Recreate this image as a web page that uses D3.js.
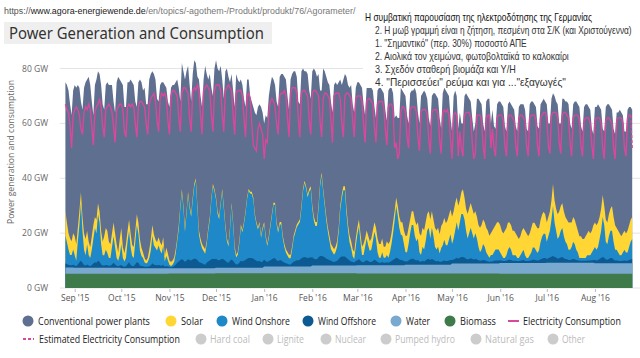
<!DOCTYPE html>
<html><head><meta charset="utf-8">
<script src="https://cdn.jsdelivr.net/npm/d3@7"></script>
<style>body{margin:0;background:#fff}svg{display:block}</style>
</head><body>
<svg id="c" width="640" height="358"></svg>
<script>
// ---------- DATA (daily values, GW; rows = weeks Sun..Sat) ----------
const startDate = "2015-08-26";
const monthTicks = ["Sep '15","Oct '15","Nov '15","Dec '15","Jan '16","Feb '16","Mar '16","Apr '16","May '16","Jun '16","Jul '16","Aug '16"];
const yTicks = [0, 20, 40, 60, 80];

const consumption = [
[67,65,64,59],
[51,63,65,66,65,63,58],[56,64,66,65,67,65,59],[52,64,66,67,69,66,59],[55,65,66,67,66,64,59],
[53,65,66,67,67,65,57],[55,66,67,66,67,66,60],[55,66,68,68,67,66,60],[56,67,69,70,71,68,61],
[57,69,71,70,71,69,61],[56,70,72,72,71,70,62],[57,71,73,73,72,71,62],[57,72,73,72,74,72,63],
[56,72,73,74,73,72,63],[57,72,74,74,74,72,63],[57,72,73,74,73,72,63],[56,71,72,72,72,70,62],
[55,70,71,69,60,52,51],[50,58,60,58,56,47,54],[53,64,68,69,68,66,60],[56,70,71,71,72,70,62],
[55,71,73,73,73,71,62],[55,71,72,72,71,70,61],[56,71,72,72,71,70,61],[55,69,71,71,70,69,61],
[53,70,71,71,71,69,60],[55,70,71,71,70,69,61],[55,69,70,70,70,68,60],[53,68,69,69,68,67,59],
[53,67,68,68,68,66,58],[52,66,67,67,65,51,53],[47,49,64,66,66,64,55],[51,65,66,66,66,64,55],
[50,64,65,65,65,63,54],[49,64,65,65,65,63,54],[49,64,65,64,65,63,54],[47,63,64,63,48,57,51],
[48,63,64,64,64,62,53],[47,49,63,63,63,61,52],[47,62,63,63,51,58,51],[48,62,63,63,63,61,52],
[48,62,63,63,62,61,52],[48,62,63,63,62,61,52],[48,62,63,63,63,61,52],[48,62,63,64,64,62,52],
[49,63,64,64,64,62,53],[49,63,64,64,63,62,53],[48,62,63,63,63,61,52],[48,61,62,62,62,60,52],
[47,61,62,62,62,60,51],[47,61,62,62,61,60,51],[47,61,62,62,62,60,51],
[48,62,63,63,null]].flat();

const estimatedStart = "2016-08-24";
const estimatedConsumption = [63, 51];

const totalGeneration = [
[75,74,72,67],
[63,72,74,73,74,73,68],[65,73,75,76,77,74,68],[63,74,76,79,78,74,67],[65,74,75,74,74,74,68],
[64,75,77,76,75,74,66],[66,75,75,76,75,74,68],[66,75,76,75,72,73,67],[67,76,78,79,78,76,69],
[68,74,75,75,74,73,68],[66,73,74,74,75,76,73],[68,82,79,76,79,81,74],[68,78,83,82,77,76,70],
[66,76,81,78,76,78,73],[70,80,83,80,79,81,76],[69,79,80,77,75,78,72],[66,78,76,75,76,74,69],
[66,76,76,70,68,66,64],[63,66,67,66,64,60,63],[62,70,74,77,76,74,68],[66,77,78,78,77,76,70],
[65,76,78,79,79,77,68],[67,79,80,79,79,78,72],[69,79,80,79,77,78,72],[72,80,79,77,75,74,68],
[64,74,75,74,75,76,74],[76,78,77,74,73,74,67],[64,73,75,75,74,73,67],[63,73,74,74,73,72,66],
[62,72,73,73,72,71,65],[61,72,73,73,71,62,63],[62,62,73,72,71,70,63],[60,71,72,72,73,71,64],
[60,70,71,72,71,69,62],[59,70,71,71,70,69,62],[58,71,73,72,71,70,62],[57,70,72,70,58,64,60],
[60,70,71,70,69,68,62],[57,60,69,69,68,67,60],[57,68,69,69,60,65,59],[58,67,68,68,67,66,59],
[57,67,68,67,66,65,59],[57,66,67,67,67,65,58],[57,67,68,68,67,66,59],[58,67,68,69,68,67,60],
[60,69,71,70,68,67,60],[60,69,69,68,68,67,60],[58,67,68,68,67,66,59],[57,66,67,67,66,65,58],
[56,66,66,67,66,65,58],[57,66,67,67,66,65,58],[56,64,64,65,64,63,57],
[57,65,66,66,65]].flat();

const solar = [
[9,7,6,6],
[5,6,7,6,5,5,4],[5,6,6,5,5,4,5],[5,4,5,4,4,5,5],[7,8,8,6,5,5,5],
[5,5,3,6,6,4,3],[5,4,4,5,4,4,4],[4,4,4,3,2,1.5,1],[1.5,3,4,4,4,3,3],
[3,3,3,3,2,3,2.5],[1.5,1.5,1.5,1.5,1.5,1,1.5],[1,1,1,1.5,1,1,1],[1,1,1,0.8,1,1.5,1.5],
[1.5,1.5,1.5,1,1,1,0.8],[0.8,0.8,0.8,1,1,0.8,0.8],[1,1,1,1,0.8,0.8,1],[1,1,1,0.8,0.8,0.8,0.8],
[0.8,0.7,0.7,0.7,0.8,0.8,0.8],[0.8,0.8,0.8,0.8,0.8,0.8,0.8],[0.8,0.8,0.8,0.8,0.8,0.8,1],[1,1,1,1,1.2,1.2,1.3],
[1.3,1.3,1.2,1,1,1,1],[1,1,0.8,0.8,0.8,1,1],[1,1.2,1.5,1.5,1.5,1.2,1],[1,1,1.2,1.5,1.5,1.8,2],
[2,2,2,2,1.5,1.5,1.5],[1.5,1.5,2,2,2.5,2.5,2.5],[2.5,3,2.5,2.5,3,3,4],[3,3,3.5,3.5,4,4,3.5],
[4,5,5,5,5,4,4],[5,5,4,4,4,3.5,3],[3.5,4,4.5,5,5,6,6],[6,5,5,5,6,6,6],
[7,7,7,7,7,6,6],[7,6,6,7,7,7,7],[8,8,8,8,9,9,9],[10,10,10,9,9,8,8],
[9,8,8,9,9,9,9],[9,8,8,8,9,9,9],[9,9,9,8,8,9,9],[9,10,10,10,9,9,10],
[10,10,9,9,9,9,8],[8,7,7,8,8,9,9],[8,8,9,9,9,9,9],[8,8,8,8,7,7,7],
[7,7,8,8,8,9,9],[9,9,9,9,9,10,10],[9,9,9,9,8,8,8],[7,7,8,8,9,8,8],
[9,9,9,9,8,8,8],[7,8,8,8,8,9,9],[9,8,8,8,7,7,7],
[7,8,8,8,8]].flat();

const windOnshore = [
[10,8,5.5,3.7],
[3.7,5.5,3.7,2,8.3,13.5,21],[11.7,5.5,3.7,7.3,3.7,3,5.5],[9,12.5,10.7,17,14.3,7.3,3.7],[3.7,5.5,4.5,2.8,2.8,6.3,9.7],
[6.3,2.8,2,3.7,7.5,3,2],[3,8,11.5,6.5,3.7,3,8],[13.5,10.7,5.5,3.7,3,1.7,1.2],[1.7,3,5.5,10,7,6.3,5.5],
[7,5.5,4.5,7,2,3.7,2.3],[0.8,0.5,0.8,1.5,4,7.8,11.8],[18.8,24.5,18.8,11,17,23.5,18.8],[16,21.5,26.3,28.5,18.8,10,7.3],
[5.5,4.8,4,6.8,11.3,15,21.7],[26.5,24.7,21.6,16.9,15,19.9,24.6],[18.7,12.2,7.7,5.9,11.4,19.9,13.2],[5,2.5,3.4,7.1,12.4,10.6,13.4],
[17.1,21.7,24.5,23.5,23.4,21.6,16],[13.4,11.6,13.4,9,11.6,13,8.5],[5.8,8.5,12.2,15.8,19.5,19.5,13],[10.3,13,13,8.5,5.6,3.9,3],
[2.2,2.2,4.8,8.5,10.3,12,13],[13.8,18.3,24.2,27,25.2,22.3,24],[25,17.7,13.9,12.1,12.1,17.7,25.4],[29.4,23.6,18.7,13.9,10.1,7.1,4.2],
[3.4,2.6,3.4,5.2,10.1,17.4,21.1],[24.1,24.1,16.2,10.6,6.6,4.9,2.1],[1.3,5.3,9.4,12,7,2.5,2.6],[5.2,7.9,5.7,4,4.5,7.2,10.2],
[8,3.5,1.8,1.8,3.5,1.8,1.8],[2.6,1.8,3.5,6.2,9.8,13.9,19],[15.7,11.6,9.3,8.9,6.2,3.3,3.3],[6,9.6,12.3,12.3,8.7,7,7.8],
[3.3,2.4,5.1,4.3,7,10.5,11.4],[7.8,11.4,8.7,5.1,4.3,5.1,3],[5,5.8,7.6,5.8,5.8,7.6,9.4],[5.8,7.6,10.3,13,10.3,13,15.7],
[15.7,13.9,10.3,7.6,9.4,11.2,9.4],[7.6,9.4,7.6,4.9,3.1,4,5.8],[4.9,3.1,2.3,1.4,2.3,2.3,3.1],[4,4,4,2.8,2,1.1,1.1],
[2,3.7,4.6,3.7,2,2,2],[1.1,1.1,2,2.8,3.7,2,1.1],[1.1,2,2.8,4.5,4.5,3.7,2.8],[3.7,6.3,8.1,8.9,8.9,6.3,8.1],
[9.8,13.5,18.2,12.6,9.8,7.2,8.1],[9.8,10.6,8.1,6.3,5.4,3.7,3.7],[4.5,6.3,5.4,3.7,2.8,1,1],[1,1,1,1.9,1.9,1.9,2.8],
[3.7,4.7,3.9,4.7,7.3,10,14.6],[11.9,6.5,5.6,8.3,10,10,6.5],[3.9,3.9,3,2.1,2.1,3,3.9],
[3,3,4.7,6.5,7.3]].flat();

const windOffshore = [
[1.5,1.2,1,0.8],
[0.8,1,0.8,0.5,1.2,2,2.5],[1.8,1,0.8,1.2,0.8,0.5,1],[1.5,2,1.8,2.5,2.2,1.2,0.8],[0.8,1,0.9,0.7,0.7,1.2,1.8],
[1.2,0.7,0.5,0.8,1.2,0.7,0.5],[0.7,1.5,2.2,1.2,0.8,0.7,1.5],[2.2,2,1,0.8,0.7,0.5,0.5],[0.5,0.7,1,1.8,1.3,1.2,1],
[1.3,1,0.9,1.3,0.5,0.8,0.6],[0.5,0.3,0.5,0.8,1.3,2,2.5],[3,3.3,3,2.3,2.8,3.3,3],[2.8,3.3,3.5,3.5,3,2.3,2],
[1.8,1.5,1.3,2,2.5,2.8,3.3],[3.5,3.3,3.3,2.8,2.7,3,3.3],[3,2.5,2,1.8,2.5,3,2.5],[1.7,1.2,1.3,1.8,2.5,2.3,2.5],
[2.8,3.3,3.5,3.5,3.5,3.3,2.9],[2.5,2.3,2.5,2,2.3,2.5,2],[1.7,2,2.3,2.7,3,3,2.3],[2,2.3,2.3,1.8,1.5,1.2,1],
[0.8,0.8,1.3,1.8,2,2.3,2.3],[2.5,3,3.3,3.5,3.3,3,3.3],[3.3,3,2.5,2.3,2.3,3,3.5],[3.5,3.3,3,2.5,2.3,2,1.7],
[1.5,1.3,1.5,1.7,2.3,3,3.3],[3.3,3.3,2.7,2.3,1.8,1.5,1.3],[1.1,1.6,1.8,2.2,1.7,1.2,1.1],[1.5,1.8,1.5,1.2,1.2,1.5,2],
[1.7,1.2,0.9,0.9,1.2,0.9,0.9],[1.1,0.9,1.2,1.5,1.9,2.3,2.7],[2.5,2.1,1.9,1.8,1.5,1.2,1.2],[1.5,1.9,2.2,2.2,1.8,1.5,1.7],
[1.2,1.1,1.4,1.2,1.5,2,2.1],[1.7,2.1,1.8,1.4,1.2,1.4,1.1],[1.1,1.3,1.5,1.3,1.3,1.5,1.7],[1.3,1.5,1.8,2.1,1.8,2.1,2.4],
[2.4,2.2,1.8,1.5,1.7,1.9,1.7],[1.5,1.7,1.5,1.2,1,1.1,1.3],[1.2,1,0.8,0.7,0.8,0.8,1],[1.1,1.1,1.1,1,0.8,0.7,0.7],
[0.8,1.1,1.2,1.1,0.8,0.8,0.8],[0.7,0.7,0.8,1,1.1,0.8,0.7],[0.7,0.8,1,1.2,1.2,1,0.9],[1,1.4,1.6,1.8,1.8,1.4,1.6],
[1.9,2.2,2.5,2.1,1.9,1.5,1.6],[1.9,2.1,1.6,1.4,1.3,1,1],[1.2,1.4,1.3,1,0.9,0.7,0.7],[0.7,0.7,0.7,0.8,0.8,0.8,0.9],
[1,1.2,1,1.2,1.6,1.9,2.3],[2,1.4,1.3,1.6,1.9,1.9,1.4],[1,1,0.9,0.8,0.8,0.9,1],
[0.9,0.9,1.2,1.4,1.6]].flat();

const water = [
[2.3,2.3,2.3,2.3],
[2.3,2.3,2.2,2.2,2.2,2.2,2.2],[2.2,2.2,2.2,2.2,2.2,2.2,2.2],[2.2,2.2,2.2,2.2,2.2,2.2,2.2],[2.2,2.2,2.2,2.2,2.2,2.2,2.2],
[2.2,2.2,2.2,2.2,2.0,2.0,2.0],[2.0,2.0,2.0,2.0,2.0,2.0,2.0],[2.0,2.0,2.0,2.0,2.0,2.0,2.0],[2.0,2.0,2.0,2.0,2.0,2.0,2.0],
[2.0,2.0,2.0,2.0,2.0,2.0,2.0],[1.9,1.9,1.9,1.9,1.9,1.9,1.9],[1.9,1.9,1.9,1.9,1.9,1.9,1.9],[1.9,1.9,1.9,1.9,1.9,1.9,1.9],
[1.9,1.9,1.9,1.9,1.9,1.9,1.9],[1.9,1.9,2.0,2.0,2.0,2.0,2.0],[2.0,2.0,2.0,2.0,2.0,2.0,2.0],[2.0,2.0,2.0,2.0,2.0,2.0,2.0],
[2.0,2.0,2.0,2.0,2.0,2.0,2.0],[2.0,2.0,2.0,2.0,2.0,2.4,2.4],[2.4,2.4,2.4,2.4,2.4,2.4,2.4],[2.4,2.4,2.4,2.4,2.4,2.4,2.4],
[2.4,2.4,2.4,2.4,2.4,2.4,2.4],[2.4,2.4,2.4,2.4,2.4,2.4,2.4],[2.4,2.8,2.8,2.8,2.8,2.8,2.8],[2.8,2.8,2.8,2.8,2.8,2.8,2.8],
[2.8,2.8,2.8,2.8,2.8,2.8,2.8],[2.8,2.8,2.8,2.8,2.8,2.8,2.8],[2.8,2.8,3.0,3.0,3.0,3.0,3.0],[3.0,3.0,3.0,3.0,3.0,3.0,3.0],
[3.0,3.0,3.0,3.0,3.0,3.0,3.0],[3.0,3.0,3.0,3.0,3.0,3.0,3.0],[3.0,3.0,3.0,3.0,3.0,3.2,3.2],[3.2,3.2,3.2,3.2,3.2,3.2,3.2],
[3.2,3.2,3.2,3.2,3.2,3.2,3.2],[3.2,3.2,3.2,3.2,3.2,3.2,3.2],[3.2,3.2,3.2,3.2,3.2,3.2,3.2],[3.6,3.6,3.6,3.6,3.6,3.6,3.6],
[3.6,3.6,3.6,3.6,3.6,3.6,3.6],[3.6,3.6,3.6,3.6,3.6,3.6,3.6],[3.6,3.6,3.6,3.6,3.6,3.6,3.6],[3.6,3.6,3.6,3.9,3.9,3.9,3.9],
[3.9,3.9,3.9,3.9,3.9,3.9,3.9],[3.9,3.9,3.9,3.9,3.9,3.9,3.9],[3.9,3.9,3.9,3.9,3.9,3.9,3.9],[3.9,3.9,3.9,3.9,3.9,4.0,4.0],
[4.0,4.0,4.0,4.0,4.0,4.0,4.0],[4.0,4.0,4.0,4.0,4.0,4.0,4.0],[4.0,4.0,4.0,4.0,4.0,4.0,4.0],[4.0,4.0,4.0,4.0,4.0,4.0,4.0],
[4.0,3.8,3.8,3.8,3.8,3.8,3.8],[3.8,3.8,3.8,3.8,3.8,3.8,3.8],[3.8,3.8,3.8,3.8,3.8,3.8,3.8],
[3.8,3.8,3.8,3.8,3.8]].flat();

const biomass = [
[5.2,5.2,5.2,5.2],
[5.2,5.2,5.2,5.2,5.2,5.2,5.2],[5.2,5.2,5.2,5.2,5.2,5.2,5.2],[5.2,5.2,5.2,5.2,5.2,5.2,5.2],[5.2,5.2,5.2,5.2,5.2,5.2,5.2],
[5.2,5.2,5.2,5.2,5.2,5.2,5.2],[5.2,5.2,5.2,5.2,5.2,5.2,5.2],[5.2,5.2,5.2,5.2,5.2,5.2,5.2],[5.2,5.2,5.2,5.2,5.2,5.2,5.2],
[5.2,5.2,5.2,5.2,5.2,5.2,5.2],[5.3,5.3,5.3,5.3,5.3,5.3,5.3],[5.3,5.3,5.3,5.3,5.3,5.3,5.3],[5.3,5.3,5.3,5.3,5.3,5.3,5.3],
[5.3,5.3,5.3,5.3,5.3,5.3,5.3],[5.3,5.3,5.4,5.4,5.4,5.4,5.4],[5.4,5.4,5.4,5.4,5.4,5.4,5.4],[5.4,5.4,5.4,5.4,5.4,5.4,5.4],
[5.4,5.4,5.4,5.4,5.4,5.4,5.4],[5.4,5.4,5.4,5.4,5.4,5.4,5.4],[5.4,5.4,5.4,5.4,5.4,5.4,5.4],[5.4,5.4,5.4,5.4,5.4,5.4,5.4],
[5.4,5.4,5.4,5.4,5.4,5.4,5.4],[5.4,5.4,5.4,5.4,5.4,5.4,5.4],[5.4,5.4,5.4,5.4,5.4,5.4,5.4],[5.4,5.4,5.4,5.4,5.4,5.4,5.4],
[5.4,5.4,5.4,5.4,5.4,5.4,5.4],[5.4,5.4,5.4,5.4,5.4,5.4,5.4],[5.4,5.4,5.3,5.3,5.3,5.3,5.3],[5.3,5.3,5.3,5.3,5.3,5.3,5.3],
[5.3,5.3,5.3,5.3,5.3,5.3,5.3],[5.3,5.3,5.3,5.3,5.3,5.3,5.3],[5.3,5.3,5.3,5.3,5.3,5.3,5.3],[5.3,5.3,5.3,5.3,5.3,5.3,5.3],
[5.3,5.3,5.3,5.3,5.3,5.3,5.3],[5.3,5.3,5.3,5.3,5.3,5.3,5.3],[5.3,5.3,5.3,5.3,5.3,5.3,5.3],[5.3,5.3,5.3,5.3,5.3,5.3,5.3],
[5.3,5.3,5.3,5.3,5.3,5.3,5.3],[5.3,5.3,5.3,5.3,5.3,5.3,5.3],[5.3,5.3,5.3,5.3,5.3,5.3,5.3],[5.3,5.3,5.3,5.2,5.2,5.2,5.2],
[5.2,5.2,5.2,5.2,5.2,5.2,5.2],[5.2,5.2,5.2,5.2,5.2,5.2,5.2],[5.2,5.2,5.2,5.2,5.2,5.2,5.2],[5.2,5.2,5.2,5.2,5.2,5.2,5.2],
[5.2,5.2,5.2,5.2,5.2,5.2,5.2],[5.2,5.2,5.2,5.2,5.2,5.2,5.2],[5.2,5.2,5.2,5.2,5.2,5.2,5.2],[5.2,5.2,5.2,5.2,5.2,5.2,5.2],
[5.2,5.2,5.2,5.2,5.2,5.2,5.2],[5.2,5.2,5.2,5.2,5.2,5.2,5.2],[5.2,5.2,5.2,5.2,5.2,5.2,5.2],
[5.2,5.2,5.2,5.2,5.2]].flat();

const activeLegend = ["Conventional power plants","Solar","Wind Onshore","Wind Offshore","Water","Biomass"];
const inactiveLegend = ["Hard coal","Lignite","Nuclear","Pumped hydro","Natural gas","Other"];
const notes = [
 "Η συμβατική παρουσίαση της ηλεκτροδότησης της Γερμανίας",
 "2.  Η μωβ γραμμή είναι η ζήτηση, πεσμένη στα Σ/Κ (και Χριστούγεννα)",
 "1.  \"Σημαντικό\" (περ. 30%) ποσοστό ΑΠΕ",
 "2.  Αιολικά τον χειμώνα, φωτοβολταϊκά το καλοκαίρι",
 "3.  Σχεδόν σταθερή βιομάζα και Υ/Η",
 "4.  \"Περισσεύει\" ρεύμα και για ...\"εξαγωγές\""
];

// ---------- STYLE ----------
const colors = {
  conventional:"#5f6f90", solar:"#ffd634", windOnshore:"#1f88c9",
  windOffshore:"#0c5a91", water:"#79a9cf", biomass:"#3f7a4b", consumption:"#d8489b"
};
const FONT = "'Open Sans', 'Noto Sans', sans-serif";
const SANS = "'Liberation Sans', Arial, sans-serif";

const svg = d3.select("#c");
const n = Math.min(consumption.length,totalGeneration.length,solar.length,windOnshore.length,windOffshore.length,water.length,biomass.length);
const t0 = d3.timeParse("%Y-%m-%d")(startDate);
const dates = d3.range(n).map(i => d3.timeDay.offset(t0, i));

const x = d3.scaleTime().domain([dates[0], dates[n-1]]).range([65.4, 632.2]);
const y = d3.scaleLinear().domain([0, 80]).range([288, 68.5]);

// fit text horizontally to a target width by scaling (keeps bbox inside)
function fitText(sel, x0, y0, w){
  const node = sel.node();
  const nat = node.getComputedTextLength();
  const s = nat > 0 ? w / nat : 1;
  sel.attr("x", null).attr("y", null)
     .attr("transform", `translate(${x0},${y0}) scale(${s},1)`);
}

// grid
svg.append("g").selectAll("line").data(yTicks).join("line")
  .attr("x1",60).attr("x2",640).attr("y1",d=>y(d)).attr("y2",d=>y(d))
  .attr("stroke","#e4e4e4").attr("stroke-width",1);
svg.append("g").selectAll("text").data(yTicks).join("text")
  .attr("x",48).attr("y",d=>y(d)+3).attr("text-anchor","end")
  .attr("font-family",FONT).attr("font-size",8.5).attr("fill","#666")
  .text(d=>d+" GW");

// stacked areas
const keys = ["biomass","water","windOffshore","windOnshore","solar","conventional"];
const table = dates.map((d,i)=>({
  date:d, biomass:biomass[i], water:water[i], windOffshore:windOffshore[i],
  windOnshore:windOnshore[i], solar:solar[i],
  conventional:Math.max(0,totalGeneration[i]-biomass[i]-water[i]-windOffshore[i]-windOnshore[i]-solar[i])
}));
const series = d3.stack().keys(keys)(table);
const area = d3.area().x(d=>x(d.data.date)).y0(y(0)).y1(d=>y(d[1]));
svg.append("g").selectAll("path").data(series.slice().reverse()).join("path")
  .attr("d",area).attr("fill",s=>colors[s.key]);

// consumption line
const line = d3.line().defined(d=>d.v!=null).x(d=>x(d.date)).y(d=>y(d.v));
svg.append("path").datum(dates.map((d,i)=>({date:d,v:consumption[i]})))
  .attr("d",line).attr("fill","none").attr("stroke",colors.consumption).attr("stroke-width",1.4);
const e0 = d3.timeParse("%Y-%m-%d")(estimatedStart);
svg.append("path").datum(estimatedConsumption.map((v,i)=>({date:d3.timeDay.offset(e0,i),v})))
  .attr("d",line).attr("fill","none").attr("stroke",colors.consumption).attr("stroke-width",1.4)
  .attr("stroke-dasharray","3,2");

// x axis
const xAxis = d3.axisBottom(x).ticks(d3.timeMonth.every(1)).tickSize(3)
  .tickFormat((d,i)=>monthTicks[i] || d3.timeFormat("%b '%y")(d));
const gx = svg.append("g").attr("transform","translate(0,289)").call(xAxis);
gx.select(".domain").remove();
gx.selectAll("line").attr("stroke","#bbb");
gx.selectAll("text").attr("font-family",FONT).attr("font-size",8.5).attr("fill","#555").attr("dy","0.75em").attr("y",6);

// y title
svg.append("text").attr("transform","translate(14,152) rotate(-90)").attr("text-anchor","middle")
  .attr("font-family",FONT).attr("font-size",9.5).attr("fill","#666")
  .attr("textLength",144).attr("lengthAdjust","spacingAndGlyphs")
  .text("Power generation and consumption");

// header
const url = svg.append("text").attr("font-family",SANS).attr("font-size",9.5);
url.append("tspan").attr("fill","#555").text("https://");
url.append("tspan").attr("fill","#222").text("www.agora-energiewende.de");
url.append("tspan").attr("fill","#777").text("/en/topics/-agothem-/Produkt/produkt/76/Agorameter/");
fitText(url, 4, 14, 352);

svg.append("rect").attr("x",4).attr("y",22).attr("width",268).attr("height",22).attr("fill","#efefef");
const title = svg.append("text").attr("font-family","'Noto Sans', 'Open Sans', sans-serif")
  .attr("font-size",16).attr("fill","#333").text("Power Generation and Consumption");
fitText(title, 9, 39, 255);

// annotation box + notes
svg.append("rect").attr("x",363).attr("y",0).attr("width",277).attr("height",88).attr("fill","#fff");
const noteX = [365,375,375,375,375,375];
const noteW = [227,257,152,194,141,191];
notes.forEach((t,i)=>{
  const tx = svg.append("text").attr("font-family",SANS).attr("font-size",10.5)
    .attr("fill", i===0 ? "#111" : "#333").text(t);
  fitText(tx, noteX[i], 21 + i*13, noteW[i]);
});

// legend
const lg = svg.append("g").attr("font-family",FONT).attr("font-size",10.5);
const row1X = [28,171,222,308,396,450];
const row1W = [112,22,58,58,24,36];
const activeColors = [colors.conventional,colors.solar,colors.windOnshore,colors.windOffshore,colors.water,colors.biomass];
activeLegend.forEach((t,i)=>{
  lg.append("circle").attr("cx",row1X[i]).attr("cy",321).attr("r",5.5).attr("fill",activeColors[i]);
  const tx = lg.append("text").attr("fill","#222").text(t);
  fitText(tx, row1X[i]+10, 325, row1W[i]);
});
lg.append("line").attr("x1",508).attr("x2",519).attr("y1",321).attr("y2",321)
  .attr("stroke",colors.consumption).attr("stroke-width",2);
fitText(lg.append("text").attr("fill","#222").text("Electricity Consumption"), 523, 325, 98);
lg.append("line").attr("x1",23).attr("x2",34).attr("y1",339).attr("y2",339)
  .attr("stroke",colors.consumption).attr("stroke-width",2).attr("stroke-dasharray","3,2");
fitText(lg.append("text").attr("fill","#222").text("Estimated Electricity Consumption"), 39, 343, 141);
const row2X = [201,268,326,386,476,553];
const row2W = [40,27,31,60,49,23];
inactiveLegend.forEach((t,i)=>{
  lg.append("circle").attr("cx",row2X[i]).attr("cy",339).attr("r",5.5).attr("fill","#cccccc");
  fitText(lg.append("text").attr("fill","#bbbbbb").text(t), row2X[i]+9, 343, row2W[i]);
});
</script>
</body></html>
